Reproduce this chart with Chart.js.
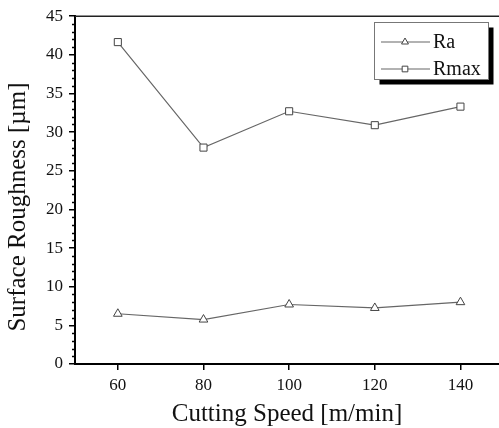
<!DOCTYPE html>
<html>
<head>
<meta charset="utf-8">
<script src="https://cdn.jsdelivr.net/npm/chart.js@4/dist/chart.umd.min.js"></script>
<style>
  html, body { margin: 0; padding: 0; background: #fff; overflow: hidden; }
  #chart { display: block; }
</style>
</head>
<body>
<canvas id="chart" width="499" height="428"></canvas>
<script>
// Data
const speeds = [60, 80, 100, 120, 140];
const ra = [6.5, 5.75, 7.7, 7.25, 8.0];
const rmax = [41.65, 28.0, 32.7, 30.9, 33.3];
const xTicks = [60, 80, 100, 120, 140];
const yTicks = [0, 5, 10, 15, 20, 25, 30, 35, 40, 45];
const seriesNames = ['Ra', 'Rmax'];

const serif = "'Liberation Serif', 'DejaVu Serif', serif";

// Minor ticks on y axis, frame line on top, y title, boxed legend with shadow
const decorations = {
  id: 'decorations',
  afterDraw(chart) {
    const ctx = chart.ctx;
    const area = chart.chartArea;
    const y = chart.scales.y;

    ctx.save();
    // minor ticks every 1 unit
    ctx.strokeStyle = '#000';
    ctx.lineWidth = 1.5;
    for (let v = y.min; v <= y.max; v++) {
      if (v % 5 === 0) continue;
      const py = Math.round(y.getPixelForValue(v)) + 0.5;
      ctx.beginPath();
      ctx.moveTo(area.left - 3, py);
      ctx.lineTo(area.left, py);
      ctx.stroke();
    }

    // top frame line
    ctx.strokeStyle = '#222';
    ctx.lineWidth = 1.5;
    ctx.beginPath();
    ctx.moveTo(area.left, area.top);
    ctx.lineTo(area.right, area.top);
    ctx.stroke();

    // y title
    ctx.fillStyle = '#111';
    ctx.font = '25px ' + serif;
    ctx.textAlign = 'center';
    ctx.textBaseline = 'alphabetic';
    ctx.translate(25, 207);
    ctx.rotate(-Math.PI / 2);
    ctx.fillText('Surface Roughness [\u00b5m]', 0, 0);
    ctx.restore();

    // legend
    const bx = 374.5, by = 22.5, bw = 114, bh = 57;
    ctx.save();
    ctx.fillStyle = '#000';
    ctx.fillRect(bx + 5, by + 5, bw, bh);
    ctx.fillStyle = '#fff';
    ctx.fillRect(bx, by, bw, bh);
    ctx.strokeStyle = '#777';
    ctx.lineWidth = 1;
    ctx.strokeRect(bx, by, bw, bh);

    const rows = [42, 69];
    chart.data.datasets.forEach((ds, i) => {
      const ry = rows[i];
      ctx.strokeStyle = ds.borderColor;
      ctx.lineWidth = 1.2;
      ctx.beginPath();
      ctx.moveTo(381, ry);
      ctx.lineTo(430, ry);
      ctx.stroke();
      ctx.fillStyle = '#fff';
      ctx.strokeStyle = ds.pointBorderColor;
      ctx.lineWidth = 1;
      Chart.helpers.drawPoint(ctx, {
        pointStyle: ds.pointStyle, radius: 4, borderWidth: 1, rotation: 0
      }, 405, ry);
      ctx.fillStyle = '#111';
      ctx.font = '20px ' + serif;
      ctx.textAlign = 'left';
      ctx.textBaseline = 'middle';
      ctx.fillText(ds.label, 433, ry + 1);
    });
    ctx.restore();
  }
};

new Chart(document.getElementById('chart'), {
  type: 'line',
  data: {
    datasets: [
      {
        label: seriesNames[0],
        data: speeds.map((s, i) => ({ x: s, y: ra[i] })),
        borderColor: '#666',
        borderWidth: 1.2,
        pointStyle: 'triangle',
        pointRadius: 5,
        pointBackgroundColor: '#fff',
        pointBorderColor: '#444',
        pointBorderWidth: 1
      },
      {
        label: seriesNames[1],
        data: speeds.map((s, i) => ({ x: s, y: rmax[i] })),
        borderColor: '#666',
        borderWidth: 1.2,
        pointStyle: 'rect',
        pointRadius: 5,
        pointBackgroundColor: '#fff',
        pointBorderColor: '#444',
        pointBorderWidth: 1
      }
    ]
  },
  options: {
    responsive: false,
    animation: false,
    devicePixelRatio: 1,
    layout: { autoPadding: false, padding: { top: 15, right: 0, bottom: 0, left: 0 } },
    plugins: {
      legend: { display: false },
      tooltip: { enabled: false }
    },
    scales: {
      x: {
        type: 'linear',
        min: 50,
        max: 149, // the picture is cut just before the right frame at 150
        afterBuildTicks: (scale) => { scale.ticks = xTicks.map(v => ({ value: v })); },
        afterFit: (scale) => {
          scale.height = 64;
          scale.paddingLeft = 0;
          scale.paddingRight = 0;
        },
        border: { display: true, color: '#000', width: 2 },
        grid: { drawOnChartArea: false, drawTicks: true, tickLength: 6, color: '#000', lineWidth: 1.5 },
        ticks: { color: '#111', padding: 5, font: { family: serif, size: 17 }, maxRotation: 0 },
        title: {
          display: true,
          text: 'Cutting Speed [m/min]',
          color: '#111',
          font: { family: serif, size: 25, lineHeight: 1 },
          padding: { top: 0, bottom: 1 }
        }
      },
      y: {
        min: 0,
        max: 45,
        afterBuildTicks: (scale) => { scale.ticks = yTicks.map(v => ({ value: v })); },
        afterFit: (scale) => { scale.width = 75; },
        border: { display: true, color: '#000', width: 2 },
        grid: { drawOnChartArea: false, drawTicks: true, tickLength: 6, color: '#000', lineWidth: 1.5 },
        ticks: { color: '#111', padding: 6, font: { family: serif, size: 17 } }
      }
    }
  },
  plugins: [decorations]
});
</script>
</body>
</html>
